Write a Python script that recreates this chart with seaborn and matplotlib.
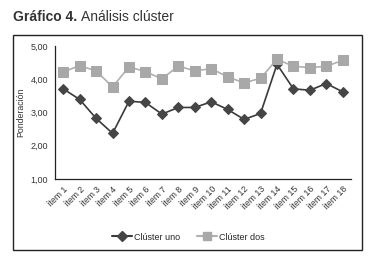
import pandas as pd
import matplotlib.pyplot as plt
import seaborn as sns
from matplotlib.patches import Rectangle
from matplotlib.lines import Line2D

# Data
items = ["ítem %d" % i for i in range(1, 19)]
cluster_uno = [3.71, 3.39, 2.82, 2.37, 3.34, 3.30, 2.95, 3.15, 3.15,
               3.32, 3.09, 2.79, 2.97, 4.45, 3.71, 3.67, 3.87, 3.62]
cluster_dos = [4.22, 4.41, 4.25, 3.77, 4.37, 4.23, 4.01, 4.40, 4.25,
               4.32, 4.07, 3.89, 4.03, 4.60, 4.39, 4.35, 4.39, 4.57]
y_ticks = [1, 2, 3, 4, 5]

df = pd.DataFrame({"item": items * 2,
                   "valor": cluster_uno + cluster_dos,
                   "cluster": ["Clúster uno"] * 18 + ["Clúster dos"] * 18})

sns.set_style("white")
plt.rcParams["font.family"] = ["Liberation Sans", "DejaVu Sans"]

fig = plt.figure(figsize=(3.77, 2.6), dpi=100)
ax = fig.add_axes([0.146, 0.312, 0.785, 0.511])

# outer frame
fig.patches.append(Rectangle((13 / 377, 1 - 250 / 260), 349 / 377, 215 / 260,
                             transform=fig.transFigure, fill=False,
                             edgecolor="#222222", linewidth=1.0))

colors = {"Clúster uno": "#454545", "Clúster dos": "#a8a8a8"}
markers = {"Clúster uno": "D", "Clúster dos": "s"}
sizes = {"Clúster uno": 5, "Clúster dos": 7}
lines = {"Clúster uno": "#3a3a3a", "Clúster dos": "#b0b0b0"}

for name in ["Clúster uno", "Clúster dos"]:
    sub = df[df["cluster"] == name]
    sns.lineplot(data=sub, x="item", y="valor", ax=ax, color=lines[name],
                 linewidth=1.2, marker=markers[name], markersize=sizes[name],
                 markerfacecolor=colors[name], markeredgecolor=colors[name],
                 sort=False, legend=False)

ax.set_xlim(-0.5, 17.5)
ax.set_ylim(1, 5)
ax.set_yticks(y_ticks)
ax.yaxis.set_major_formatter(plt.FuncFormatter(lambda v, p: ("%.2f" % v).replace(".", ",")))
ax.set_xticks(range(18))
ax.set_xticklabels(items, rotation=45, ha="right", rotation_mode="anchor", fontsize=6.3,
                   color="#333333")
ax.set_xticks([i - 0.5 for i in range(19)], minor=True)
ax.tick_params(axis="x", which="major", length=0, pad=4)
ax.tick_params(axis="x", which="minor", length=4, width=0.8, color="#222222", direction="out")
ax.tick_params(axis="y", length=4, width=0.8, color="#222222", direction="out",
               labelsize=6.5, labelcolor="#333333", pad=1)
ax.set_xlabel("")
ax.set_ylabel("Ponderación", fontsize=6.3, color="#333333", labelpad=4)
for s in ["top", "right"]:
    ax.spines[s].set_visible(False)
for s in ["left", "bottom"]:
    ax.spines[s].set_color("#222222")
    ax.spines[s].set_linewidth(0.9)

handles = [Line2D([], [], color=lines["Clúster uno"], marker="D", markersize=5,
                  markerfacecolor=colors["Clúster uno"], markeredgecolor=colors["Clúster uno"]),
           Line2D([], [], color=lines["Clúster dos"], marker="s", markersize=6,
                  markerfacecolor=colors["Clúster dos"], markeredgecolor=colors["Clúster dos"])]
fig.legend(handles, ["Clúster uno", "Clúster dos"], loc="center",
           bbox_to_anchor=(0.5, 1 - 237 / 260), ncol=2, frameon=False,
           fontsize=6.5, handlelength=2.2, handletextpad=0.3, columnspacing=1.8)

fig.text(13 / 377, 1 - 17 / 260, "Gráfico 4.", fontsize=10, fontweight="bold",
         va="center", ha="left", color="#333333")
fig.text(81 / 377, 1 - 17 / 260, "Análisis clúster", fontsize=10,
         va="center", ha="left", color="#333333")

fig.savefig("out.png", dpi=100)
